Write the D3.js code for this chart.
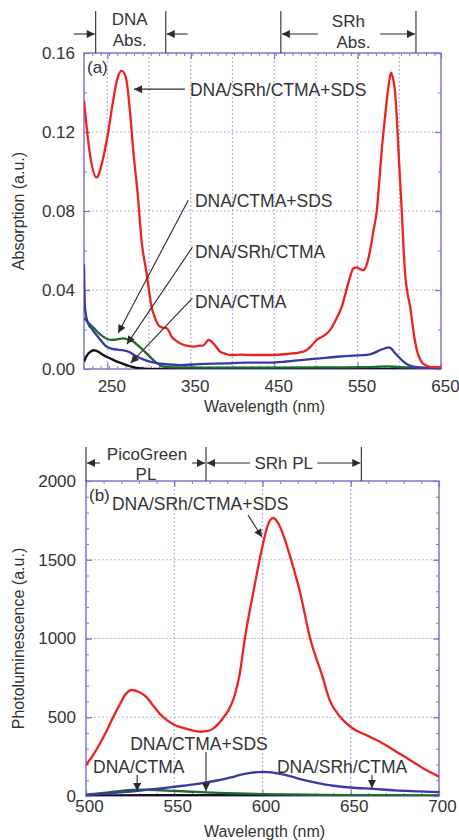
<!DOCTYPE html>
<html>
<head>
<meta charset="utf-8">
<script src="https://cdn.jsdelivr.net/npm/d3@7"></script>
<style>
  body { margin: 0; background: #fff; }
  svg { display: block; font-family: "Liberation Sans", Arial, sans-serif; }
</style>
</head>
<body>
<script>
// ---- panel (a) absorption, [wavelength nm, absorption a.u.]
const absRed = [[222,0.136],[229,0.109],[237,0.097],[244,0.105],[251,0.12],[257,0.136],[262,0.147],[267,0.151],
  [270,0.150],[273,0.146],[277,0.131],[281,0.111],[287,0.0855],[291,0.065],[297,0.0486],[303,0.0315],[307,0.026],
  [311,0.0223],[316,0.021],[321,0.0207],[324,0.019],[327,0.0164],[332,0.0145],[337,0.013],[345,0.0118],[353,0.0113],
  [360,0.0118],[365,0.012],[369,0.0138],[371,0.0147],[374,0.0142],[377,0.013],[381,0.011],[385,0.0088],[391,0.0078],
  [397,0.0071],[410,0.0073],[425,0.0071],[445,0.0071],[465,0.0076],[485,0.0088],[493,0.011],[501,0.0147],[510,0.017],
  [517,0.0197],[524,0.025],[531,0.0315],[536,0.039],[541,0.0467],[545,0.051],[549,0.0515],[553,0.0505],[557,0.05],
  [561,0.053],[565,0.06],[569,0.07],[573,0.08],[576,0.095],[579,0.111],[582,0.124],[585,0.136],[588,0.146],[590,0.150],
  [592,0.148],[595,0.14],[597,0.127],[599,0.111],[601,0.095],[603,0.08],[605,0.062],[607,0.048],[610,0.038],
  [613,0.0315],[617,0.019],[621,0.0096],[626,0.004],[631,0.002],[640,0.001],[650,0.001]];
const absBlue = [[222,0.053],[223,0.032],[225,0.026],[227,0.023],[232,0.02],[237,0.0172],[243,0.014],[249,0.0113],
  [255,0.0103],[262,0.0098],[269,0.0095],[277,0.0085],[283,0.0068],[289,0.0056],[297,0.0042],[309,0.003],[320,0.0024],
  [337,0.002],[360,0.0025],[390,0.0028],[417,0.0032],[445,0.0032],[465,0.0038],[485,0.0046],[505,0.0054],[525,0.0062],
  [545,0.0068],[561,0.0071],[570,0.0082],[577,0.0096],[583,0.0105],[587,0.011],[590,0.0105],[595,0.008],[600,0.0058],
  [605,0.0037],[611,0.002],[617,0.0012],[630,0.0006],[650,0.0005]];
const absGreen = [[222,0.026],[228,0.023],[234,0.0207],[240,0.018],[245,0.0164],[250,0.0152],[255,0.0147],[262,0.015],
  [269,0.0155],[275,0.0148],[281,0.0139],[287,0.0118],[293,0.0096],[299,0.007],[305,0.0046],[311,0.0025],[317,0.0012],
  [330,0.0008],[400,0.0007],[500,0.0008],[560,0.0009],[585,0.0013],[600,0.001],[650,0.0005]];
const absBlack = [[222,0.0037],[225,0.0065],[229,0.0085],[234,0.0095],[240,0.0085],[245,0.0071],[251,0.0058],
  [257,0.0046],[265,0.0032],[273,0.002],[281,0.001],[289,0.0004],[300,0.0001],[400,0.0001],[650,0.0001]];

// ---- panel (b) photoluminescence, [wavelength nm, PL a.u.]
const plRed = [[500,197],[504,260],[508,335],[512,420],[515.5,503],[519,578],[522,640],[526,673],[530,660],[534,631],
  [538,575],[542,520],[546,480],[550,452],[555,432],[560,416],[565,408],[569,413],[572,428],[575,458],[578,500],[581,550],
  [584,630],[587,768],[590,1000],[595,1306],[599.5,1560],[603,1720],[606,1765],[609,1730],[612,1650],[615,1545],
  [618,1430],[621,1306],[627,1000],[634,758],[638,610],[644,503],[651,430],[660,380],[668,335],[676,280],[683.5,229],
  [692,170],[700,123]];
const plBlue = [[500,6],[510,14],[520,24],[527,30],[535,40],[545,52],[555,65],[565,80],[575,100],[582,118],[588,135],
  [594,148],[600,153],[605,150],[610,140],[616,124],[622,105],[630,85],[640,65],[650,54],[663,45],[675,36],[688,30],[700,25]];
const plGreen = [[500,8],[510,20],[520,33],[530,40],[540,38],[550,32],[560,27],[575,20],[600,12],[625,8],[650,5],[700,3]];
const plBlack = [[500,3],[550,5],[600,4],[650,3],[700,2]];

// ticks
const absXLabels = [250, 350, 450, 550, 650];
const absXGrid = [250, 300, 350, 400, 450, 500, 550, 600];
const absYLabels = [0, 0.04, 0.08, 0.12, 0.16];
const plXLabels = [500, 550, 600, 650, 700];
const plYLabels = [0, 500, 1000, 1500, 2000];

// region brackets above each panel (wavelengths)
const absBrackets = [236, 320, 458, 620];
const plBrackets = [500, 568, 656];

// curve labels: text anchor and arrow from -> to, in data units
const absNotes = [
  {text: "DNA/SRh/CTMA+SDS", at: [349, 0.138], from: [343, 0.1417], to: [282, 0.1417]},
  {text: "DNA/CTMA+SDS", at: [355, 0.082], from: [347, 0.0855], to: [263, 0.0182]},
  {text: "DNA/SRh/CTMA", at: [355, 0.0562], from: [352, 0.0617], to: [273.5, 0.0126]},
  {text: "DNA/CTMA", at: [355, 0.0309], from: [352, 0.0359], to: [278, 0.003]}
];
const plNotes = [
  {text: "DNA/SRh/CTMA+SDS", at: [514.7, 1816], from: [591.8, 1784], to: [599.7, 1644]},
  {text: "DNA/CTMA+SDS", at: [525, 292], from: [568, 279], to: [568, 32]},
  {text: "DNA/CTMA", at: [504, 146], from: [529, 133], to: [529, 32]},
  {text: "DNA/SRh/CTMA", at: [608.2, 146], from: [662, 133], to: [662, 51]}
];

const W = 459, H = 840;
const FRAME = "#8276cc", GRID = "#a198da", INK = "#2b2b2b", TXT = "#333";
const COLORS = {red: "#ec2320", blue: "#3838a6", green: "#1d6b2c", black: "#111"};

const svg = d3.select("body").append("svg").attr("width", W).attr("height", H);

const defs = svg.append("defs");
defs.append("marker").attr("id", "head")
  .attr("viewBox", "0 0 10 10").attr("refX", 10).attr("refY", 5)
  .attr("markerWidth", 10).attr("markerHeight", 8).attr("markerUnits", "userSpaceOnUse")
  .attr("orient", "auto")
  .append("path").attr("d", "M0,0L10,5L0,10Z").attr("fill", INK);

function panel(cfg) {
  const x = d3.scaleLinear().domain(cfg.xDomain).range([cfg.left, cfg.right]);
  const y = d3.scaleLinear().domain(cfg.yDomain).range([cfg.bottom, cfg.top]);
  const g = svg.append("g");

  const clipId = "clip" + cfg.id;
  defs.append("clipPath").attr("id", clipId).append("rect")
    .attr("x", cfg.left).attr("y", cfg.top)
    .attr("width", cfg.right - cfg.left).attr("height", cfg.bottom - cfg.top);

  // dotted grid
  g.selectAll(".gx").data(cfg.xGrid).join("line")
    .attr("x1", d => x(d)).attr("x2", d => x(d)).attr("y1", cfg.top).attr("y2", cfg.bottom)
    .attr("stroke", GRID).attr("stroke-width", 1.2).attr("stroke-dasharray", "1.5,2.5");
  g.selectAll(".gy").data(cfg.yGrid).join("line")
    .attr("x1", cfg.left).attr("x2", cfg.right).attr("y1", d => y(d)).attr("y2", d => y(d))
    .attr("stroke", GRID).attr("stroke-width", 1.2).attr("stroke-dasharray", "1.5,2.5");

  // ticks on all four sides, pointing in
  const minorX = d3.range(cfg.xDomain[0], cfg.xDomain[1] + 0.001, cfg.xMinor);
  const minorY = d3.range(cfg.yDomain[0], cfg.yDomain[1] + 1e-9, cfg.yMinor);
  const sides = [
    [() => d3.axisBottom(x), cfg.bottom, true], [() => d3.axisTop(x), cfg.top, true],
    [() => d3.axisLeft(y), cfg.left, false], [() => d3.axisRight(y), cfg.right, false]
  ];
  sides.forEach(([mk, pos, horiz]) => {
    const major = horiz ? cfg.xLabels : cfg.yLabels;
    const minor = horiz ? minorX : minorY;
    const tr = horiz ? `translate(0,${pos})` : `translate(${pos},0)`;
    g.append("g").attr("transform", tr)
      .call(mk().tickValues(minor).tickSizeInner(-3).tickSizeOuter(0).tickFormat(""))
      .call(s => s.select(".domain").remove())
      .selectAll("line").attr("stroke", FRAME);
    g.append("g").attr("transform", tr)
      .call(mk().tickValues(major).tickSizeInner(-6).tickSizeOuter(0).tickFormat(""))
      .call(s => s.select(".domain").remove())
      .selectAll("line").attr("stroke", FRAME).attr("stroke-width", 1.2);
  });

  // tick labels
  g.append("g").attr("transform", `translate(${cfg.xShift},${cfg.bottom})`)
    .call(d3.axisBottom(x).tickValues(cfg.xLabels).tickSize(0).tickPadding(cfg.xPad).tickFormat(d3.format("d")))
    .call(s => s.select(".domain").remove())
    .selectAll("text").attr("font-size", 17).attr("fill", TXT)
    .attr("font-family", '"Liberation Sans", Arial, sans-serif');
  g.append("g").attr("transform", `translate(${cfg.left},0)`)
    .call(d3.axisLeft(y).tickValues(cfg.yLabels).tickSize(0).tickPadding(cfg.yPad).tickFormat(cfg.yFormat))
    .call(s => s.select(".domain").remove())
    .selectAll("text").attr("font-size", 17).attr("fill", TXT)
    .attr("font-family", '"Liberation Sans", Arial, sans-serif');

  // frame
  g.append("rect").attr("x", cfg.left).attr("y", cfg.top)
    .attr("width", cfg.right - cfg.left).attr("height", cfg.bottom - cfg.top)
    .attr("fill", "none").attr("stroke", FRAME).attr("stroke-width", 1.5);

  // curves
  const line = d3.line().x(d => x(d[0])).y(d => y(d[1])).curve(d3.curveMonotoneX);
  const curves = g.append("g").attr("clip-path", `url(#${clipId})`);
  cfg.series.forEach(s => {
    curves.append("path").datum(s.data).attr("d", line)
      .attr("fill", "none").attr("stroke", s.color).attr("stroke-width", 2.3)
      .attr("stroke-linejoin", "round");
  });

  // panel letter
  g.append("text").attr("x", cfg.left + 3).attr("y", cfg.top + 20)
    .attr("font-size", 17).attr("fill", TXT).text(cfg.letter);

  // curve labels with arrows
  cfg.notes.forEach(n => {
    g.append("text").attr("x", x(n.at[0])).attr("y", y(n.at[1]))
      .attr("font-size", 17.5).attr("fill", TXT).text(n.text);
    g.append("line")
      .attr("x1", x(n.from[0])).attr("y1", y(n.from[1]))
      .attr("x2", x(n.to[0])).attr("y2", y(n.to[1]))
      .attr("stroke", INK).attr("stroke-width", 1.1).attr("marker-end", "url(#head)");
  });

  // axis titles
  g.append("text").attr("x", (cfg.left + cfg.right) / 2 + 2).attr("y", cfg.xTitleY)
    .attr("text-anchor", "middle").attr("font-size", 16).attr("fill", TXT).text("Wavelength (nm)");
  g.append("text").attr("transform", `translate(24,${(cfg.top + cfg.bottom) / 2}) rotate(-90)`)
    .attr("text-anchor", "middle").attr("font-size", 16).attr("fill", TXT).text(cfg.yTitle);

  return {x, y, g};
}

function arrow(g, x1, x2, yy) {
  g.append("line").attr("x1", x1).attr("x2", x2).attr("y1", yy).attr("y2", yy)
    .attr("stroke", INK).attr("stroke-width", 1.1).attr("marker-end", "url(#head)");
}

// ---------- panel (a)
const A = panel({
  id: "a", left: 84, right: 441, top: 53, bottom: 369,
  xDomain: [222, 650], yDomain: [0, 0.16],
  xLabels: absXLabels, yLabels: absYLabels, xGrid: absXGrid, yGrid: [0.04, 0.08, 0.12],
  xMinor: 10, yMinor: 0.02, xPad: 11, xShift: 4, yPad: 9, yFormat: d3.format(".2f"),
  xTitleY: 412, yTitle: "Absorption (a.u.)", letter: "(a)",
  series: [
    {data: absBlack, color: COLORS.black},
    {data: absGreen, color: COLORS.green},
    {data: absBlue, color: COLORS.blue},
    {data: absRed, color: COLORS.red}
  ],
  notes: absNotes
});

{
  const bx = absBrackets.map(A.x);
  A.g.selectAll(".br").data(bx).join("line")
    .attr("x1", d => d).attr("x2", d => d).attr("y1", 11).attr("y2", 53)
    .attr("stroke", INK).attr("stroke-width", 1.1);
  arrow(A.g, bx[0] - 22, bx[0] - 1, 34);
  arrow(A.g, bx[1] + 22, bx[1] + 1, 34);
  arrow(A.g, bx[2] + 37, bx[2] + 1, 34);
  arrow(A.g, bx[3] - 36, bx[3] - 1, 34);
  const t = A.g.append("g").attr("font-size", 17).attr("fill", TXT).attr("text-anchor", "middle");
  t.append("text").attr("x", (bx[0] + bx[1]) / 2 - 1).attr("y", 25).text("DNA");
  t.append("text").attr("x", (bx[0] + bx[1]) / 2 - 1).attr("y", 46).text("Abs.");
  t.append("text").attr("x", (bx[2] + bx[3]) / 2).attr("y", 27).text("SRh");
  t.append("text").attr("x", (bx[2] + bx[3]) / 2 + 5).attr("y", 48).text("Abs.");
}

// ---------- panel (b)
const B = panel({
  id: "b", left: 86, right: 439, top: 481, bottom: 796,
  xDomain: [500, 700], yDomain: [0, 2000],
  xLabels: plXLabels, yLabels: plYLabels, xGrid: [550, 600, 650], yGrid: [500, 1000, 1500],
  xMinor: 10, yMinor: 100, xPad: 4, xShift: 3, yPad: 10, yFormat: d3.format("d"),
  xTitleY: 837, yTitle: "Photoluminescence (a.u.)", letter: "(b)",
  series: [
    {data: plBlack, color: COLORS.black},
    {data: plGreen, color: COLORS.green},
    {data: plBlue, color: COLORS.blue},
    {data: plRed, color: COLORS.red}
  ],
  notes: plNotes
});

{
  const bx = plBrackets.map(B.x);
  B.g.selectAll(".br").data(bx).join("line")
    .attr("x1", d => d).attr("x2", d => d).attr("y1", 447).attr("y2", 481)
    .attr("stroke", INK).attr("stroke-width", 1.1);
  arrow(B.g, bx[0] + 14, bx[0] + 1, 463);
  arrow(B.g, bx[1] - 14, bx[1] - 1, 463);
  arrow(B.g, bx[1] + 44, bx[1] + 1, 463);
  arrow(B.g, bx[2] - 44, bx[2] - 1, 463);
  const t = B.g.append("g").attr("font-size", 17).attr("fill", TXT).attr("text-anchor", "middle");
  t.append("text").attr("x", (bx[0] + bx[1]) / 2 + 1).attr("y", 460).text("PicoGreen");
  t.append("text").attr("x", (bx[0] + bx[1]) / 2).attr("y", 480).text("PL");
  t.append("text").attr("x", (bx[1] + bx[2]) / 2).attr("y", 469).text("SRh PL");
}
</script>
</body>
</html>
